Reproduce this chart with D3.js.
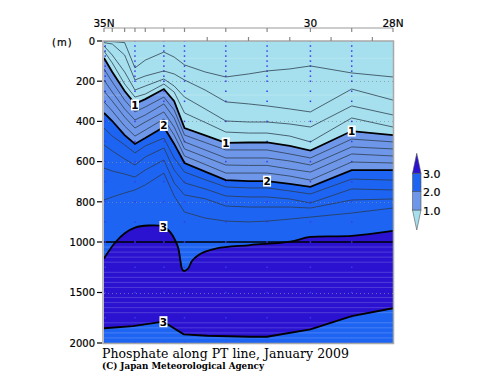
<!DOCTYPE html>
<html><head><meta charset="utf-8">
<script src="https://cdn.jsdelivr.net/npm/d3@7"></script>
<style>body{margin:0;background:#fff}svg{display:block}</style>
</head><body>
<script>
// ---------- data ----------
const lats = [35.0, 34.8, 34.5, 34.25, 34.0, 33.55, 33.3, 33.05, 32.55, 32.05, 31.5, 31.05, 30.5, 30.0, 29.0, 28.0];
// depth (m) of each contour level at the latitudes above
const c02 = [2, 3, 8, 134, 95, 55, 80, 119, 154, 179, 164, 149, 139, 124, 159, 179];
const c04 = [8, 15, 70, 194, 174, 149, 164, 194, 244, 303, 313, 323, 338, 353, 239, 294];
const c06 = [25, 70, 154, 244, 224, 189, 224, 279, 338, 398, 403, 403, 413, 428, 323, 368];
const c08 = [50, 109, 214, 279, 264, 214, 254, 358, 405, 453, 458, 458, 473, 502, 383, 428];
const c10 = [85, 154, 249, 313, 289, 239, 299, 433, 470, 507, 505, 504, 522, 545, 448, 468];
const c12 = [139, 204, 294, 353, 328, 279, 343, 468, 505, 542, 542, 542, 562, 582, 488, 502];
const c14 = [194, 254, 338, 393, 368, 313, 383, 502, 542, 582, 582, 582, 597, 617, 527, 537];
const c16 = [249, 299, 378, 433, 403, 353, 428, 537, 577, 617, 619, 619, 637, 652, 562, 572];
const c18 = [303, 348, 423, 473, 443, 388, 468, 572, 614, 657, 657, 657, 672, 692, 602, 607];
const c20 = [358, 398, 468, 512, 483, 428, 512, 607, 650, 692, 697, 697, 711, 726, 642, 642];
const c22 = [433, 473, 517, 557, 522, 483, 582, 652, 690, 726, 731, 731, 746, 761, 687, 692];
const c24 = [517, 547, 587, 617, 577, 532, 642, 706, 736, 771, 776, 776, 786, 806, 736, 741];
const c26 = [632, 647, 662, 677, 642, 592, 706, 766, 785, 821, 826, 826, 826, 831, 791, 786];
const c28 = [791, 776, 756, 741, 716, 657, 771, 851, 881, 896, 900, 896, 886, 876, 856, 831];
// 3.0 contour, upper branch and lower branch
const c30aLat = [35.0, 34.73, 34.49, 34.25, 33.93, 33.56, 33.4, 33.28, 33.2, 33.145, 33.11, 33.06, 32.96, 32.87, 32.71, 32.55, 32.27, 31.46, 30.49, 30.0, 29.0, 28.0];
const c30aDep = [1163, 1005, 955, 928, 918, 923, 950, 990, 1062, 1198, 1267, 1287, 1261, 1188, 1129, 1096, 1062, 1030, 998, 975, 970, 945];
const c30bLat = [35.0, 34.3, 33.56, 33.07, 32.5, 31.45, 31.05, 30.0, 29.0, 28.0];
const c30bDep = [1854, 1832, 1789, 1914, 1928, 1938, 1938, 1864, 1733, 1656];

const labelText = ["1", "1", "1", "2", "2", "3", "3"];
const labelLat = [34.25, 32.05, 29.0, 33.55, 31.05, 33.56, 33.56];
const labelDep = [318, 507, 448, 420, 697, 923, 1789];

const depthTicks = [0, 200, 400, 600, 800, 1000, 1500, 2000];
const gridDepths = [200, 400, 600, 800, 1500];
const topLabels = [{lat: 35, t: "35N"}, {lat: 30, t: "30"}, {lat: 28, t: "28N"}];
const stationLats = [34.97, 34.25, 33.55, 33.05, 32.05, 31.05, 30.0, 29.0];
const stationTicks = [35.0, 34.8, 34.5, 34.25, 34.0, 33.55, 33.05, 32.05, 31.05, 30.0, 29.0, 28.0];
const halfTicks = [32.5, 31.5, 30.5, 29.5, 28.5];
const sampleDepths = [0, 25, 50, 75, 100, 125, 150, 175, 200, 250, 300, 400, 500, 600, 700, 800, 900, 1000, 1250, 1500, 1750, 2000];
const streakDepths = [86, 269, 1050, 1100, 1150, 1200, 1300, 1350, 1400, 1450, 1550, 1600, 1650, 1700, 1800, 1850, 1900, 1950];

const cbLevels = [1.0, 2.0, 3.0];
const cbColors = ["#a6e0ee", "#6f97e9", "#1e64f2", "#2a12d0"];
const title = "Phosphate along PT line, January 2009";
const credit = "(C) Japan Meteorological Agency";

// ---------- drawing ----------
const W = 500, H = 387;
const svg = d3.select("body").append("svg").attr("width", W).attr("height", H);
const x = d3.scaleLinear().domain([35, 28]).range([104, 393]);
const y = d3.scaleLinear().domain([0, 1000, 2000]).range([41, 242, 343]);

svg.append("clipPath").attr("id", "clip").append("rect")
  .attr("x", x(35)).attr("y", y(0)).attr("width", x(28) - x(35)).attr("height", y(2000) - y(0));
const plot = svg.append("g").attr("clip-path", "url(#clip)");

const pts = arr => lats.map((la, i) => [x(la), y(arr[i])]);
const bottom = y(2000) + 2;

plot.append("rect").attr("x", x(35)).attr("y", y(0)).attr("width", x(28) - x(35)).attr("height", y(2000) - y(0))
  .attr("fill", cbColors[0]);
const area = d3.area().x(d => d[0]).y0(d => d[1]).y1(bottom);
plot.append("path").attr("d", area(pts(c10))).attr("fill", cbColors[1]);
plot.append("path").attr("d", area(pts(c20))).attr("fill", cbColors[2]);

const ptsA = c30aLat.map((la, i) => [x(la), y(c30aDep[i])]);
const ptsB = c30bLat.map((la, i) => [x(la), y(c30bDep[i])]);
const lineCR = d3.line().curve(d3.curveCatmullRom.alpha(0.5));
const lineL = d3.line();
const darkPath = lineCR(ptsA) + "L" + lineL(ptsB.slice().reverse()).slice(1) + "Z";
plot.append("path").attr("d", darkPath).attr("fill", cbColors[3]);

plot.selectAll(".streak").data(streakDepths).join("line")
  .attr("x1", x(35)).attr("x2", x(28)).attr("y1", d => y(d)).attr("y2", d => y(d))
  .attr("stroke", "#fff").attr("stroke-opacity", 0.18).attr("stroke-width", 1);

plot.selectAll(".grid").data(gridDepths).join("line")
  .attr("x1", x(35)).attr("x2", x(28)).attr("y1", d => Math.round(y(d)) + 0.5).attr("y2", d => Math.round(y(d)) + 0.5)
  .attr("stroke", "#8090a0").attr("stroke-width", 1).attr("stroke-dasharray", "1,3").attr("stroke-opacity", 0.7);
plot.append("line").attr("x1", x(35)).attr("x2", x(28)).attr("y1", y(1000)).attr("y2", y(1000))
  .attr("stroke", "#000").attr("stroke-width", 1.3);

const dots = [];
stationLats.forEach(la => sampleDepths.forEach(d => dots.push([la, d])));
plot.selectAll(".dot").data(dots).join("rect")
  .attr("x", d => x(d[0]) - 0.75).attr("y", d => y(d[1]) - 0.75).attr("width", 1.5).attr("height", 1.5)
  .attr("fill", "#3a3aee");

const thin = [c02, c04, c06, c08, c12, c14, c16, c18, c22, c24, c26, c28];
plot.selectAll(".thin").data(thin).join("path")
  .attr("d", d => lineL(pts(d))).attr("fill", "none")
  .attr("stroke", "#2a3a4a").attr("stroke-width", 0.9).attr("stroke-opacity", 0.85);
[c10, c20].forEach(c => plot.append("path").attr("d", lineL(pts(c))).attr("fill", "none")
  .attr("stroke", "#000").attr("stroke-width", 1.8));
plot.append("path").attr("d", lineCR(ptsA)).attr("fill", "none").attr("stroke", "#000").attr("stroke-width", 1.8);
plot.append("path").attr("d", lineL(ptsB)).attr("fill", "none").attr("stroke", "#000").attr("stroke-width", 1.8);

const lg = svg.selectAll(".lab").data(labelText).join("g")
  .attr("transform", (d, i) => `translate(${x(labelLat[i])},${y(labelDep[i])})`);
lg.append("rect").attr("x", -4).attr("y", -5.5).attr("width", 8).attr("height", 11).attr("fill", "#fff");
lg.append("text").attr("text-anchor", "middle").attr("y", 4).attr("font-family", "DejaVu Sans")
  .attr("font-size", 10.5).attr("font-weight", "bold").text(d => d);

svg.append("rect").attr("x", 103).attr("y", y(0)).attr("width", x(28) - 103 + 0.5).attr("height", y(2000) - y(0) + 0.5)
  .attr("fill", "none").attr("stroke", "#a8a8a8").attr("stroke-width", 1.5);

const ax = svg.append("g").attr("font-family", "DejaVu Sans").attr("font-size", 10)
  .attr("stroke", "#000").attr("stroke-width", 0.2);
ax.selectAll(".yl").data(depthTicks).join("text").attr("x", 95).attr("y", d => y(d) + 3.8)
  .attr("text-anchor", "end").text(d => d);
ax.append("text").attr("x", 52).attr("y", 46).attr("letter-spacing", 1).text("(m)");
ax.selectAll(".tl").data(topLabels).join("text").attr("x", d => x(d.lat)).attr("y", 26.5)
  .attr("text-anchor", "middle").attr("font-size", 10.5).text(d => d.t);
svg.selectAll(".yt").data(depthTicks).join("line").attr("x1", 97).attr("x2", 102)
  .attr("y1", d => y(d)).attr("y2", d => y(d)).attr("stroke", "#000").attr("stroke-width", 1.2);

svg.append("line").attr("x1", x(35)).attr("x2", x(28)).attr("y1", 28).attr("y2", 28).attr("stroke", "#999").attr("stroke-width", 1.2);
svg.selectAll(".st").data(stationTicks).join("line").attr("x1", d => x(d)).attr("x2", d => x(d))
  .attr("y1", 28).attr("y2", 32).attr("stroke", "#888").attr("stroke-width", 1.2);
svg.selectAll(".ht").data(halfTicks).join("line").attr("x1", d => x(d)).attr("x2", d => x(d))
  .attr("y1", 37).attr("y2", 41).attr("stroke", "#888").attr("stroke-width", 1.2);

svg.append("text").attr("x", 102).attr("y", 357.5).attr("font-family", "DejaVu Serif, serif")
  .attr("font-size", 12.5).attr("textLength", 247).attr("lengthAdjust", "spacing").text(title);
svg.append("text").attr("x", 102).attr("y", 369).attr("font-family", "DejaVu Serif, serif")
  .attr("font-size", 10).attr("font-weight", "bold").attr("textLength", 162).attr("lengthAdjust", "spacingAndGlyphs").text(credit);

const cb = d3.scaleLinear().domain([1, 3]).range([210, 173.3]);
const cx0 = 412.5, cx1 = 421;
const cg = svg.append("g");
cg.append("path").attr("d", `M${cx0},${cb(1)}L${cx1},${cb(1)}L${(cx0 + cx1) / 2},${cb(1) + 20}Z`).attr("fill", cbColors[0]);
cg.append("rect").attr("x", cx0).attr("y", cb(2)).attr("width", cx1 - cx0).attr("height", cb(1) - cb(2)).attr("fill", cbColors[1]);
cg.append("rect").attr("x", cx0).attr("y", cb(3)).attr("width", cx1 - cx0).attr("height", cb(2) - cb(3)).attr("fill", cbColors[2]);
cg.append("path").attr("d", `M${cx0},${cb(3)}L${cx1},${cb(3)}L${(cx0 + cx1) / 2},${cb(3) - 20}Z`).attr("fill", cbColors[3]);
cg.selectAll("path,rect").attr("stroke", "#555").attr("stroke-width", 0.6);
cg.selectAll(".cbl").data(cbLevels).join("text").attr("x", 423).attr("y", d => cb(d) + 4.5)
  .attr("font-family", "DejaVu Sans").attr("font-size", 11).attr("stroke", "#000").attr("stroke-width", 0.2)
  .text(d => d.toFixed(1));
</script>
</body></html>
